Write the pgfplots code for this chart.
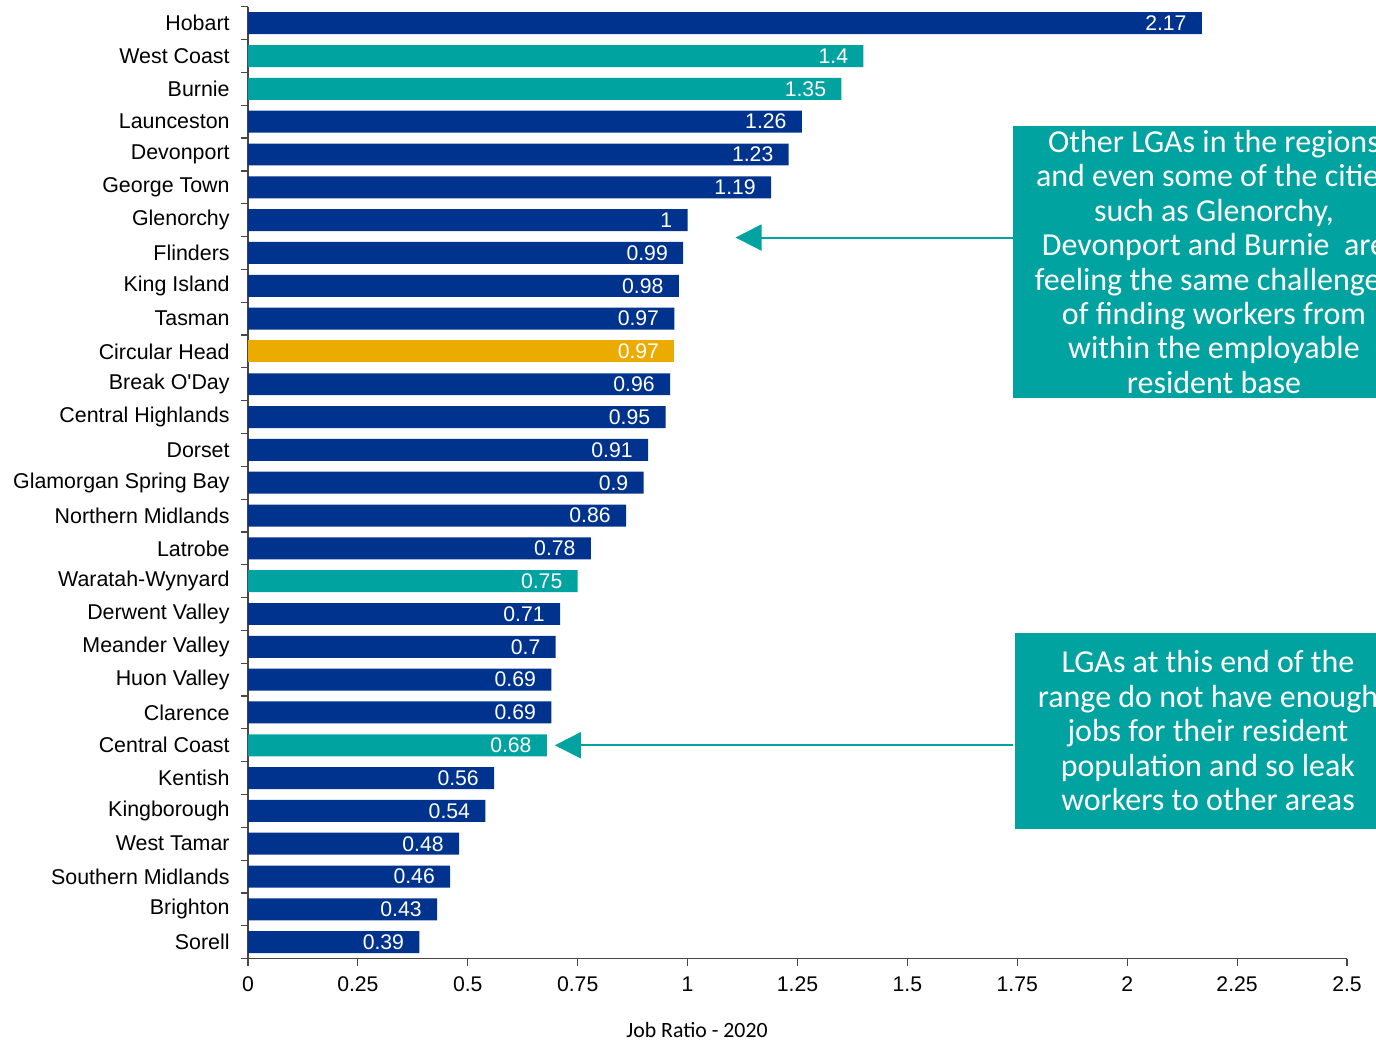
\documentclass[border=0pt]{standalone}
\usepackage{fontspec}
\setmainfont{Liberation Sans}
\newfontfamily\calibri{Carlito}
\usepackage{pgfplots}
\pgfplotsset{compat=1.18}
\usetikzlibrary{arrows.meta}

\definecolor{navy}{RGB}{0,51,141}
\definecolor{teal}{RGB}{0,163,160}
\definecolor{gold}{RGB}{235,171,0}
\definecolor{axisgray}{RGB}{70,70,70}

\begin{document}
\begin{tikzpicture}
\useasboundingbox (-124pt,-40.2pt) rectangle (564pt,479.3pt);
\clip (-124pt,-40.2pt) rectangle (564pt,479.3pt);
\begin{axis}[
  scale only axis,
  width=549.5pt, height=475.9pt,
  xmin=0, xmax=2.5,
  ymin=-0.5, ymax=28.5,
  y dir=reverse,
  axis x line*=bottom,
  axis y line*=left,
  axis line style={axisgray, line width=0.6pt},
  xtick={0,0.25,...,2.5},
  xticklabels={0,0.25,0.5,0.75,1,1.25,1.5,1.75,2,2.25,2.5},
  % boundaries between categories carry the tick marks
  ytick={-0.5,0.5,...,28.5},
  yticklabels={},
  % category names sit at the bar centres
  extra y ticks={0,...,28},
  extra y tick labels={Hobart,West Coast,Burnie,Launceston,Devonport,George Town,Glenorchy,Flinders,King Island,Tasman,Circular Head,Break O\textquotesingle Day,Central Highlands,Dorset,Glamorgan Spring Bay,Northern Midlands,Latrobe,Waratah-Wynyard,Derwent Valley,Meander Valley,Huon Valley,Clarence,Central Coast,Kentish,Kingborough,West Tamar,Southern Midlands,Brighton,Sorell},
  extra y tick style={major tick length=0pt, tick style={draw=none}},
  tick align=outside,
  major tick length=3.5pt,
  tick style={axisgray, line width=0.6pt},
  xticklabel style={font=\fontsize{10.6}{12}\selectfont, inner sep=0pt, anchor=north, yshift=-5.5pt},
  yticklabel style={font=\fontsize{10.7}{12}\selectfont, inner sep=0pt, anchor=east, xshift=-9pt},
  /pgf/number format/assume math mode=true,
  xbar, bar shift=0pt, bar width=0.67,
  nodes near coords,
  nodes near coords style={anchor=east, inner sep=0pt, xshift=-7.5pt, text=white, font=\fontsize{10.6}{12}\selectfont},
  clip=false,
]
% navy bars
\addplot[fill=navy, draw=none] coordinates {
  (2.17,0) (1.26,3) (1.23,4) (1.19,5) (1,6) (0.99,7) (0.98,8) (0.97,9)
  (0.96,11) (0.95,12) (0.91,13) (0.9,14) (0.86,15) (0.78,16)
  (0.71,18) (0.7,19) (0.69,20) (0.69,21) (0.56,23) (0.54,24)
  (0.48,25) (0.46,26) (0.43,27) (0.39,28)};
% teal bars
\addplot[fill=teal, draw=none] coordinates {
  (1.4,1) (1.35,2) (0.75,17) (0.68,22)};
% gold bar
\addplot[fill=gold, draw=none] coordinates {(0.97,10)};

% pointers from the call-outs
\draw[teal, line width=1pt, -{Triangle[length=13pt,width=13pt]}]
  (axis cs:1.74,6.53) -- (axis cs:1.109,6.53);
\draw[teal, line width=1pt, -{Triangle[length=13pt,width=13pt]}]
  (axis cs:1.74,22.0) -- (axis cs:0.698,22.0);
\end{axis}

% call-out boxes
\fill[teal] (382.3pt,280.3pt) rectangle (600pt,416.3pt);
\node[text=white, align=center, font=\calibri\fontsize{16}{17.2}\selectfont]
  at (483pt,348.3pt) {Other LGAs in the regions\\and even some of the cities\\such as Glenorchy,\\Devonport and Burnie~ are\\feeling the same challenges\\of finding workers from\\within the employable\\resident base};
\fill[teal] (383.6pt,64.6pt) rectangle (600pt,162.6pt);
\node[text=white, align=center, font=\calibri\fontsize{16}{17.2}\selectfont]
  at (480pt,113.9pt) {LGAs at this end of the\\range do not have enough\\jobs for their resident\\population and so leak\\workers to other areas};

% axis title
\node[font=\calibri\fontsize{10.9}{12}\selectfont] at (224.5pt,-35.7pt) {Job Ratio - 2020};
\end{tikzpicture}
\end{document}
